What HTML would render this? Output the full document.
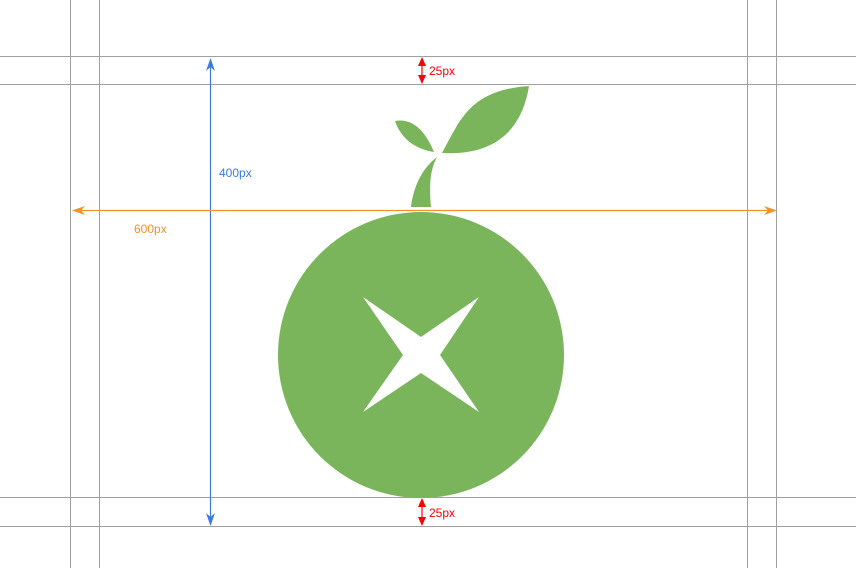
<!DOCTYPE html>
<html><head><meta charset="utf-8"><style>
html,body{margin:0;padding:0;background:#fff;}
svg{display:block;font-family:"Liberation Sans",sans-serif;}
</style></head><body>
<svg width="856" height="568" viewBox="0 0 856 568">
<g stroke="#a0a0a0" stroke-width="1">
<line x1="70.5" y1="0" x2="70.5" y2="568"/><line x1="99.5" y1="0" x2="99.5" y2="568"/>
<line x1="747.5" y1="0" x2="747.5" y2="568"/><line x1="776.5" y1="0" x2="776.5" y2="568"/>
<line x1="0" y1="56.5" x2="856" y2="56.5"/><line x1="0" y1="84.5" x2="856" y2="84.5"/>
<line x1="0" y1="497.5" x2="856" y2="497.5"/><line x1="0" y1="526.5" x2="856" y2="526.5"/>
</g>
<g fill="#7ab55c">
<circle cx="421" cy="355" r="143"/>
<path fill="#fff" d="M363,297 L421,337 L479,297 L440,355 L479,412 L421,373 L363,412 L403,355 Z"/>
<path d="M442,153 C460,120 470,90 529,86 C522,130 495,156 442,153 Z"/>
<path d="M434,152 C420,150 402,142 395,121 C412,118 425,130 434,152 Z"/>
<path d="M437,157 C420,170 413,190 411,207 L431,207 C429,185 430,170 437,157 Z"/>
</g>
<g stroke="#3a7be0" fill="#3a7be0">
<line x1="210.5" y1="60" x2="210.5" y2="524" stroke-width="1.2"/>
<path d="M210.5,58 L206,71 L210.5,67 L215,71 Z" stroke="none"/>
<path d="M210.5,526 L206,513 L210.5,517 L215,513 Z" stroke="none"/>
<text x="219" y="177" font-size="12" stroke="none">400px</text>
</g>
<g stroke="#f0922a" fill="#f0922a">
<line x1="73" y1="210.5" x2="775" y2="210.5" stroke-width="1.2"/>
<path d="M72,210.5 L85,206 L81,210.5 L85,215 Z" stroke="none"/>
<path d="M777,210.5 L764,206 L768,210.5 L764,215 Z" stroke="none"/>
<text x="134" y="233" font-size="12" stroke="none">600px</text>
</g>
<g stroke="#f00" fill="#f00">
<line x1="422" y1="60" x2="422" y2="82" stroke-width="1.2"/>
<path d="M422,57 L418,66 L426,66 Z M422,84 L418,75 L426,75 Z" stroke="none"/>
<text x="429" y="75" font-size="12" stroke="none">25px</text>
<line x1="422" y1="501" x2="422" y2="523" stroke-width="1.2"/>
<path d="M422,498 L418,507 L426,507 Z M422,526 L418,517 L426,517 Z" stroke="none"/>
<text x="429" y="517" font-size="12" stroke="none">25px</text>
</g>
</svg>
</body></html>
